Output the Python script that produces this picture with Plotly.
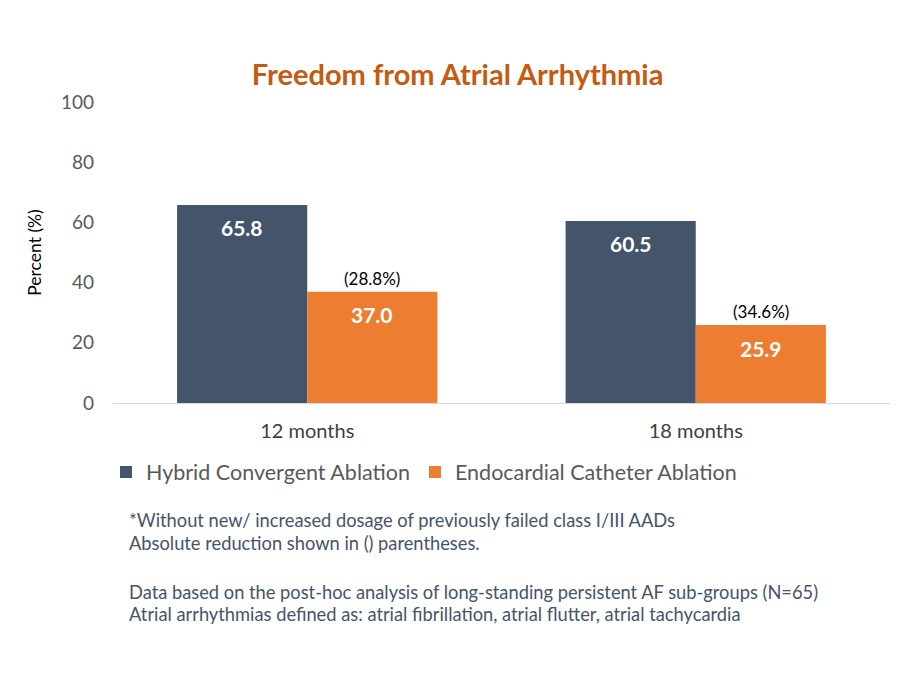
import plotly.graph_objects as go

# chart data
categories = ["12 months", "18 months"]
hybrid = [65.8, 60.5]
endocardial = [37.0, 25.9]
reduction = ["(28.8%)", "(34.6%)"]
series_names = ["Hybrid Convergent Ablation", "Endocardial Catheter Ablation"]
y_ticks = [0, 20, 40, 60, 80, 100]

footnotes = [
    "*Without new/ increased dosage of previously failed class I/III AADs",
    "Absolute reduction shown in () parentheses.",
    "Data based on the post-hoc analysis of long-standing persistent AF sub-groups (N=65)",
    "Atrial arrhythmias defined as: atrial fibrillation, atrial flutter, atrial tachycardia",
]
footnote_y = [-0.389, -0.465, -0.628, -0.701]

FONT = "Lato"
BLUE = "#44546A"
ORANGE = "#ED7D31"

fig = go.Figure()
fig.add_trace(go.Bar(x=categories, y=hybrid, name=series_names[0],
                     marker=dict(color=BLUE, line=dict(width=0))))
fig.add_trace(go.Bar(x=categories, y=endocardial, name=series_names[1],
                     marker=dict(color=ORANGE, line=dict(width=0))))

annotations = []
# value labels inside the bars
for i, cat in enumerate(categories):
    for val, off in ((hybrid[i], -0.5), (endocardial[i], 0.5)):
        annotations.append(dict(
            x=i + off * 0.335, y=val, xref="x", yref="y",
            text="<b>%.1f</b>" % val, showarrow=False,
            yanchor="middle", yshift=-23,
            font=dict(family=FONT, size=21, color="white")))
    # reduction label above the orange bar
    annotations.append(dict(
        x=i + 0.5 * 0.335, y=endocardial[i], xref="x", yref="y",
        text=reduction[i], showarrow=False, yanchor="bottom", yshift=1,
        font=dict(family=FONT, size=17, color="black")))

for txt, yy in zip(footnotes, footnote_y):
    annotations.append(dict(
        x=0.018, y=yy, xref="paper", yref="paper", text=txt,
        showarrow=False, xanchor="left", yanchor="middle",
        font=dict(family=FONT, size=18.3, color="#44546A")))

fig.update_layout(
    width=919, height=679,
    margin=dict(l=113, r=29, t=102, b=276),
    paper_bgcolor="white", plot_bgcolor="white",
    barmode="group", bargap=0.33, bargroupgap=0,
    title=dict(text="<b>Freedom from Atrial Arrhythmia</b>", x=0.498, y=0.8895,
               xanchor="center", yanchor="middle",
               font=dict(family=FONT, size=29, color="#C55A11")),
    font=dict(family=FONT),
    showlegend=True,
    legend=dict(orientation="h", x=-0.009, y=-0.229, xanchor="left",
                yanchor="middle", font=dict(family=FONT, size=21.5, color="#595959"),
                itemwidth=30, traceorder="normal"),
    annotations=annotations,
)
fig.update_xaxes(
    showline=True, linecolor="#D9D9D9", linewidth=1, showgrid=False,
    ticks="", tickfont=dict(family=FONT, size=20, color="#404040"),
    ticklabelstandoff=10, fixedrange=True,
)
fig.update_yaxes(
    range=[0, 100], tickvals=y_ticks, showgrid=False, zeroline=False,
    showline=False, ticks="", tickfont=dict(family=FONT, size=19, color="#595959"),
    ticklabelstandoff=18,
    title=dict(text="Percent (%)", standoff=14,
               font=dict(family=FONT, size=17.5, color="black")),
)

fig.write_html("out.html", config={"displayModeBar": False},
               post_script="document.body.style.margin='0';")
